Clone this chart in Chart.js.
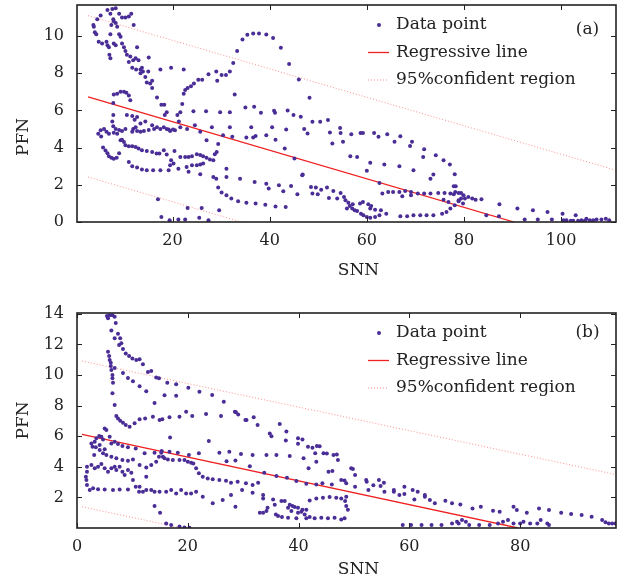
<!DOCTYPE html>
<html>
<head>
<meta charset="utf-8">
<script src="https://cdn.jsdelivr.net/npm/chart.js@4.4.1/dist/chart.umd.min.js"></script>
<style>
  html, body { margin: 0; padding: 0; background: #fff; }
  .box { position: absolute; left: 0; width: 626px; }
  #boxA { top: 0; height: 290px; }
  #boxB { top: 290px; height: 293px; }
</style>
</head>
<body>
<div class="box" id="boxA"><canvas id="chartA"></canvas></div>
<div class="box" id="boxB"><canvas id="chartB"></canvas></div>
<script>
// ---- panel (a): [SNN, PFN] ----
const pointsA = [
  [3.8,10.5],[3.7,10.6],[4.0,10.2],[4.3,10.1],[4.8,9.7],[5.2,11.1],[4.5,10.9],[5.5,9.6],[6.4,9.7],[6.6,9.5],
  [6.9,9.4],[7.0,9.0],[7.2,8.8],[7.2,11.2],[6.6,11.4],[7.6,11.45],[8.3,11.5],[7.8,10.9],[7.9,10.8],[8.3,10.7],
  [8.6,10.5],[7.4,10.6],[7.2,10.1],[7.9,9.6],[8.3,9.5],[9.0,11.2],[9.6,11.0],[10.3,11.0],[11.0,11.05],[11.5,11.2],
  [12.0,10.6],[9.0,10.1],[9.3,9.96],[9.6,9.6],[10.0,9.4],[10.3,9.2],[10.6,9.0],[11.0,8.6],[11.3,8.9],[11.9,8.7],
  [12.4,8.8],[12.7,9.4],[13.0,8.7],[11.7,8.3],[12.5,8.2],[13.4,8.2],[13.7,8.3],[13.9,8.1],[13.4,8.0],[14.4,7.8],
  [15.0,8.1],[15.1,8.85],[14.7,7.5],[15.4,7.45],[15.8,7.6],[15.8,7.2],[16.8,6.7],[17.5,8.2],[17.7,6.3],[18.3,6.3],
  [19.7,8.3],[22.3,8.2],
  [7.9,6.86],[8.6,6.9],[9.3,7.0],[10.0,7.0],[10.5,6.95],[11.0,6.8],[11.3,6.55],[7.8,6.4],
  [7.8,5.75],[7.6,5.4],[7.8,5.15],[8.3,5.0],[9.0,4.95],[9.6,4.9],[10.3,5.0],[10.6,5.75],[11.7,5.7],[12.2,5.5],
  [12.7,5.65],[13.4,5.3],[14.4,5.4],[11.9,5.0],[11.7,4.85],[12.4,5.1],[12.7,4.9],[13.4,4.85],[14.1,4.9],[15.1,4.95],
  [15.8,5.2],[16.2,5.0],[16.8,5.1],[17.5,5.0],[18.2,5.1],[18.8,5.0],[19.2,4.97],[19.5,4.9],[20.1,4.97],[20.5,4.94],
  [18.8,5.9],[18.4,5.75],[21.0,5.75],[21.6,5.9],[22.0,6.35],[21.3,5.4],[21.6,5.1],[23.0,5.0],[24.6,5.2],[24.3,5.96],
  [25.7,4.85],[27.0,4.4],[26.9,5.96],[28.1,5.1],[29.8,5.9],[31.8,5.9],[31.8,5.1],[29.4,4.2],[30.4,4.67],
  [4.7,4.75],[5.2,4.94],[5.9,5.0],[6.4,4.85],[6.9,4.75],[7.9,4.8],[8.6,4.75],[5.3,4.6],[5.7,4.0],[6.2,3.85],
  [6.6,3.7],[6.9,3.54],[7.4,3.46],[7.9,3.4],[8.5,3.46],[9.0,3.7],[9.3,4.4],[9.6,4.43],[10.0,4.3],[10.3,4.13],
  [11.0,4.07],[11.7,4.07],[12.4,4.04],[13.0,3.95],[13.7,3.86],[14.7,3.82],[15.8,3.77],[16.7,3.68],[17.3,3.68],[18.2,3.86],
  [18.8,3.63],[19.7,3.32],[20.4,3.82],[11.0,3.23],[11.7,3.0],[12.7,2.93],[13.7,2.82],[14.7,2.78],[16.0,2.78],[17.5,2.78],
  [19.2,2.78],[19.5,3.05],[20.2,3.14],[21.2,2.87],[21.6,3.5],[22.6,3.5],[23.3,3.5],[24.0,3.54],[25.0,3.64],[25.7,3.6],
  [26.3,3.54],[27.0,3.46],[27.7,3.36],[28.4,3.32],[28.7,3.64],[29.1,3.77],[24.0,3.05],[25.0,3.05],[25.7,3.09],[26.3,3.14],
  [22.9,2.96],[23.3,2.7],[25.7,2.57],[28.4,2.42],[29.0,2.33],[29.4,1.85],[30.1,1.58],[31.1,1.44],[32.1,1.26],[33.5,1.11],
  [35.2,1.04],[37.1,0.99],[39.1,0.93],[41.2,0.84],[43.3,0.81],[31.1,2.42],[31.1,2.87],[33.9,2.33],[36.9,2.15],[39.3,2.06],
  [39.8,1.8],[41.9,1.97],[42.8,1.65],[44.4,1.94],[45.7,1.49],[46.7,2.51],[48.5,1.88],[48.8,1.53],
  [17.0,1.22],[17.7,0.27],[19.4,0.09],[21.2,0.14],[22.6,0.14],[23.1,0.75],[25.5,0.23],[26.0,0.75],[27.4,0.09],[29.6,0.63],
  [22.3,6.9],[22.6,7.1],[23.1,7.2],[23.8,7.3],[24.4,7.45],[25.3,7.65],[26.1,7.65],[27.4,7.95],[29.0,8.1],[29.2,7.6],
  [30.1,7.9],[31.0,7.9],[31.8,8.1],[32.5,8.55],[33.3,9.2],[34.4,9.82],[35.4,10.07],[36.6,10.14],[37.8,10.14],[39.3,10.09],
  [40.7,9.9],[42.3,9.37],[44.0,8.5],[46.0,7.67],[48.2,6.68],[32.8,6.86],
  [35.0,6.16],[36.8,6.2],[38.2,5.87],[40.9,5.98],[41.1,5.87],[43.7,6.0],[44.9,5.75],[46.4,5.66],[48.8,5.39],[36.2,5.1],
  [40.5,5.1],[43.4,4.97],[47.1,5.0],[32.3,4.58],[35.2,4.54],[36.6,4.54],[37.1,4.63],[39.3,4.67],[41.2,4.43],[43.1,3.95],
  [45.1,3.41],[46.8,2.55],[47.8,4.76],
  [50.4,5.39],[52.0,5.48],[52.4,4.81],[52.9,4.22],[54.5,5.06],[54.6,4.79],[55.1,4.31],[56.8,4.72],[58.7,4.79],[59.2,4.79],
  [61.5,4.79],[62.4,4.58],[64.2,4.72],[65.7,4.31],[66.9,4.61],[68.9,4.09],[69.3,4.31],[71.8,3.91],[71.6,3.5],[74.2,3.59],
  [75.8,3.32],[77.1,3.09],[78.1,2.57],[73.1,2.33],[73.7,2.55],[56.6,3.54],[58.0,3.5],[60.0,2.75],[60.7,3.18],[63.6,3.09],
  [66.7,3.0],[69.6,2.78],[62.6,2.1],
  [49.5,1.85],[49.9,1.49],[50.6,1.74],[51.8,1.85],[52.2,1.29],[53.1,1.67],[53.9,1.26],[54.6,1.56],[55.3,1.35],[55.6,1.17],
  [56.2,1.04],[56.5,0.86],[57.0,0.72],[57.5,0.63],[58.0,0.59],[58.8,0.45],[59.3,0.36],[60.0,0.27],[60.7,0.23],[61.7,0.27],
  [62.6,0.36],[62.9,0.63],[61.7,0.66],[60.7,0.72],[58.6,0.99],[59.2,1.08],[60.3,0.95],[60.9,0.86],[57.1,0.95],[55.9,0.72],
  [64.0,0.45],
  [66.9,0.31],[68.3,0.31],[69.6,0.36],[71.0,0.36],[72.3,0.36],[73.7,0.36],[75.5,0.45],[76.4,0.54],[77.2,0.72],[78.1,0.9],
  [78.9,1.11],[79.4,1.26],[79.9,1.44],[79.4,1.56],
  [63.2,1.53],[64.4,1.62],[65.4,1.62],[66.7,1.62],[67.9,1.67],[69.1,1.62],[70.5,1.53],[71.8,1.53],[73.1,1.53],[74.7,1.56],
  [76.0,1.56],[77.2,1.53],[78.2,1.62],[78.9,1.56],[77.9,1.92],[78.3,1.92],[75.8,1.2],[76.8,1.08],[77.9,1.49],[78.9,1.17],
  [79.8,0.99],[67.3,1.38],[69.1,1.44],
  [80.2,1.26],[80.9,1.35],[81.7,1.26],[82.4,1.2],[83.6,1.22],[84.6,0.36],[87.3,0.95],[87.2,0.31],[91.0,0.72],[92.5,0.14],
  [94.2,0.63],[95.2,0.14],[97.2,0.54],[98.1,0.13],[100.3,0.45],[100.5,0.09],[103.0,0.36],[105.2,0.18],[106.6,0.09],[108.3,0.13],
  [109.2,0.18],[109.9,0.09],[101.1,0.09],[102.0,0.07],[102.5,0.07],[103.5,0.07],[104.2,0.09],[104.9,0.07],[105.9,0.09],[107.3,0.13]
];
const regSnnA = [2.6, 90.3];
const regPfnA = [6.73, 0];
const upSnnA = [2.6, 111.3];
const upPfnA = [11.1, 2.78];
const lowSnnA = [2.6, 34.2];
const lowPfnA = [2.42, 0];
const snnTicksA = [20, 40, 60, 80, 100];
const pfnTicksA = [0, 2, 4, 6, 8, 10];

// ---- panel (b) ----
const pointsB = [
  [5.4,13.85],[5.6,13.7],[5.9,13.9],[6.4,13.9],[6.8,13.8],[7.0,13.4],[6.2,12.9],[7.4,12.7],[7.8,12.4],[6.8,12.4],
  [7.6,11.96],[8.0,12.07],[8.3,11.7],[8.8,11.4],[9.4,11.24],[10.0,11.08],[10.7,10.98],[11.3,11.02],[11.9,10.7],[12.8,10.2],
  [13.4,10.26],[14.3,9.84],[14.8,9.78],[16.3,9.5],[17.9,9.4],[20.1,9.17],[22.1,8.9],[24.4,8.69],[26.5,8.25],[28.7,7.56],
  [30.6,7.05],[32.6,6.73],[34.8,6.18],[36.6,6.79],[37.8,6.3],[39.9,5.86],[40.7,5.79],
  [5.6,11.52],[5.8,11.24],[5.9,10.98],[6.1,10.8],[6.1,10.58],[6.2,10.32],[6.4,10.0],[6.4,9.78],[6.5,9.5],[6.4,8.8],
  [6.8,8.03],[7.1,7.32],[7.4,7.16],[7.8,7.01],[8.3,6.88],[8.8,6.73],[9.5,6.62],[10.4,6.84],[11.3,7.1],[12.3,7.16],
  [13.7,7.27],[14.9,7.05],[15.4,7.1],[16.7,7.23],[18.5,7.27],[19.7,7.6],[20.8,7.32],[23.3,7.45],[26.0,7.32],[28.5,7.6],
  [30.4,7.05],[31.9,7.23],[29.1,7.41],
  [6.8,10.46],[8.3,10.13],[9.2,9.8],[10.1,9.59],[11.3,9.26],[12.5,8.94],[14.0,8.17],[15.8,8.68],[17.9,8.65],
  [3.2,5.64],[2.6,5.53],[2.8,5.31],[3.5,5.86],[4.0,6.01],[4.4,5.97],[4.7,5.79],[5.0,6.51],[5.3,6.4],[3.4,5.27],
  [3.1,4.77],[4.1,5.42],[5.0,5.14],[6.2,5.53],[5.9,5.97],[6.8,5.64],[7.4,5.49],[8.2,5.36],[9.2,5.27],[10.6,5.2],
  [12.2,4.88],[14.0,4.92],[15.3,5.03],[16.7,4.98],[16.8,5.92],[18.2,4.92],[20.2,4.77],[22.0,4.88],[23.8,5.68],[25.7,4.92],
  [27.5,4.98],[29.6,4.83],[31.7,4.77],[34.2,4.77],[36.0,4.77],[38.4,4.7],[40.9,4.55],[43.2,4.33],
  [4.1,5.09],[4.7,4.88],[5.3,4.77],[6.2,4.66],[7.1,4.55],[8.2,4.44],[9.2,4.4],[10.1,4.48],[11.3,4.11],[12.5,3.96],
  [13.4,4.11],[14.3,4.33],[14.8,4.66],[15.2,4.92],[15.5,4.66],[15.8,4.55],[16.4,4.48],[17.3,4.44],[18.5,4.44],[19.4,4.44],
  [20.0,4.33],[20.6,4.27],[21.0,4.22],[21.5,3.9],[22.0,3.57],[22.7,3.35],[23.6,3.24],[24.5,3.18],[25.7,3.13],[26.9,3.09],
  [27.8,2.96],[29.0,3.02],[30.5,2.92],[31.7,2.81],[32.7,2.96],
  [1.8,4.0],[1.6,3.35],[1.8,2.81],[2.3,2.48],[1.8,3.68],[1.7,3.13],[2.6,4.11],[3.2,3.9],[3.8,4.0],[4.4,4.18],
  [5.0,3.9],[5.6,3.68],[6.2,3.9],[6.8,4.0],[7.1,3.79],[7.7,4.0],[8.2,3.68],[8.6,3.46],[9.2,3.79],[9.8,3.61],
  [10.1,3.13],[10.6,2.7],[11.2,2.37],[11.9,2.37],[12.5,2.48],[13.4,2.48],[14.0,2.37],[14.9,2.37],[16.1,2.37],[17.0,2.48],
  [17.9,2.26],[18.8,2.48],[19.7,2.26],[20.6,2.26],[21.5,2.37],[22.7,2.04],[24.5,1.61],[26.3,1.83],[27.8,2.15],[28.6,1.39],
  [29.8,2.48],[31.7,2.3],[33.6,1.93],[33.6,2.15],
  [2.9,2.59],[3.8,2.54],[5.0,2.52],[6.5,2.48],[7.7,2.52],[9.2,2.52],
  [11.3,2.7],[12.5,3.35],[14.0,1.43],[15.0,1.0],[16.1,0.3],[17.0,0.2],[18.5,0.09],[19.4,0.04],[20.3,0.02],
  [35.1,6.0],[37.7,5.71],[39.9,5.5],[42.5,5.24],[43.8,5.35],[45.1,4.87],[46.9,4.8],[46.1,3.72],[48.3,3.1],
  [27.0,4.37],[28.6,4.41],[31.2,4.04],[33.8,3.61],[36.0,3.39],[37.9,3.28],[39.6,3.07],[41.4,2.89],[43.2,2.84],
  [41.7,5.31],[41.8,3.9],[43.0,4.88],[43.3,5.36],[44.5,4.88],[45.4,3.68],[46.3,4.77],[47.1,4.44],[49.5,3.9],[49.8,3.85],
  [47.7,3.13],[48.6,2.92],[48.6,2.04],[50.2,2.7],[52.2,3.13],[52.6,2.48],[54.8,2.74],[55.5,2.37],[57.2,2.37],[58.2,2.15],
  [59.1,2.22],[60.9,1.87],[62.8,2.04],[63.7,1.83],[64.6,1.61],[66.5,1.78],[67.7,1.61],[69.2,1.54],[71.4,1.28],[72.9,1.39],
  [75.1,1.13],[76.3,1.06],[78.8,1.39],[79.4,1.17],[81.2,1.0],[83.4,1.28],[85.2,1.17],[87.4,1.0],[89.2,0.91],[91.1,0.85],
  [92.9,0.74],[94.8,0.52],[96.0,0.3],[96.6,0.3],[97.2,0.3],[95.4,0.37],
  [44.3,2.92],[46.0,2.85],[50.2,3.46],[52.3,3.02],[53.5,2.8],[54.5,3.13],[55.4,2.96],[57.2,2.48],[59.1,2.7],[60.6,2.48],
  [61.5,2.37],[62.8,2.15],
  [42.0,1.8],[43.2,1.93],[44.4,1.98],[45.6,2.02],[46.8,1.98],[47.7,1.93],[48.4,1.76],[48.6,1.43],[48.9,1.19],[48.3,0.63],
  [47.7,0.56],[46.5,0.67],[45.3,0.63],[44.1,0.67],[42.9,0.63],[42.0,0.72],[41.4,1.19],[40.7,1.19],[39.9,1.32],[39.3,1.37],
  [38.9,1.43],[38.4,1.52],[37.5,1.76],[36.9,1.76],[35.7,1.52],[35.4,1.87],[34.2,1.11],[33.6,1.0],[33.0,1.0],[34.4,1.32],
  [35.9,0.89],[36.3,0.78],[38.1,1.32],[38.7,1.11],[39.9,1.0],[40.5,1.06],[41.1,0.89],[37.0,0.72],[38.1,0.67],[39.6,0.63],
  [41.4,0.63],
  [58.8,0.19],[60.3,0.19],[62.2,0.19],[64.0,0.19],[65.8,0.19],[67.7,0.3],[68.6,0.41],[69.5,0.52],[70.2,0.41],[68.9,0.3],
  [70.8,0.19],[72.6,0.19],[74.5,0.19],[76.0,0.3],[76.9,0.41],[77.8,0.52],[78.8,0.3],[80.0,0.3],[80.6,0.41],[81.8,0.3],
  [83.1,0.3],[83.7,0.52],[84.9,0.3],[85.2,0.19]
];
const regSnnB = [0.9, 79.6];
const regPfnB = [6.12, 0];
const upSnnB = [0.9, 97.3];
const upPfnB = [10.91, 3.49];
const lowSnnB = [0.9, 18.9];
const lowPfnB = [1.39, 0];
const snnTicksB = [0, 20, 40, 60, 80];
const pfnTicksB = [2, 4, 6, 8, 10, 12, 14];

const FONT = 'DejaVu Serif';
const INK = '#222';
const DOT = '#4a2d96';
const RED = '#ee2020';
const PINK = '#ff8f8f';

function xy(xs, ys) { return xs.map((x, i) => ({ x: x, y: ys[i] })); }

// frame with inward ticks, legend box and axis titles drawn on top of the plot
function decor(o) {
  return {
    id: 'decor',
    afterDatasetsDraw(chart) {
      const { ctx, chartArea: a, scales: { x, y } } = chart;
      ctx.save();
      ctx.strokeStyle = INK;
      ctx.lineWidth = 1.6;
      ctx.strokeRect(a.left, a.top, a.right - a.left, a.bottom - a.top);
      ctx.lineWidth = 1;
      ctx.beginPath();
      x.ticks.forEach(t => {
        const px = Math.round(x.getPixelForValue(t.value)) + 0.5;
        ctx.moveTo(px, a.bottom); ctx.lineTo(px, a.bottom - 5);
        ctx.moveTo(px, a.top); ctx.lineTo(px, a.top + 5);
      });
      y.ticks.forEach(t => {
        const py = Math.round(y.getPixelForValue(t.value)) + 0.5;
        ctx.moveTo(a.left, py); ctx.lineTo(a.left + 5, py);
        ctx.moveTo(a.right, py); ctx.lineTo(a.right - 5, py);
      });
      ctx.stroke();

      // legend
      ctx.font = '17px "' + FONT + '"';
      ctx.textBaseline = 'middle';
      const ds = chart.data.datasets;
      [0, 1, 2].forEach((k, i) => {
        const d = ds[k];
        const ry = a.top + 20 + i * 27.5;
        if (k === 0) {
          ctx.fillStyle = DOT;
          ctx.beginPath();
          ctx.arc(a.right - 237, ry, 2, 0, Math.PI * 2);
          ctx.fill();
        } else {
          ctx.strokeStyle = d.borderColor;
          ctx.lineWidth = d.borderWidth;
          ctx.setLineDash(d.borderDash || []);
          ctx.beginPath();
          ctx.moveTo(a.right - 248, ry); ctx.lineTo(a.right - 227, ry);
          ctx.stroke();
          ctx.setLineDash([]);
        }
        ctx.fillStyle = INK;
        ctx.textAlign = 'left';
        ctx.fillText(d.label, a.right - 220, ry);
      });
      ctx.textAlign = 'center';
      ctx.fillText(o.tag, a.right - 28.5, a.top + o.tagDy);

      // axis titles
      ctx.fillText('SNN', (a.left + a.right) / 2 + 12, a.bottom + o.xTitleDy);
      ctx.translate(24, (a.top + a.bottom) / 2 + o.yTitleDy);
      ctx.rotate(-Math.PI / 2);
      ctx.fillText('PFN', 0, 0);
      ctx.restore();
    }
  };
}

function makeChart(id, o) {
  return new Chart(document.getElementById(id), {
    type: 'scatter',
    data: {
      datasets: [
        { label: 'Data point', data: o.points.map(p => ({ x: p[0], y: p[1] })),
          backgroundColor: DOT, pointRadius: 2, pointBorderWidth: 0 },
        { label: 'Regressive line', data: xy(o.reg[0], o.reg[1]), showLine: true,
          borderColor: RED, borderWidth: 1.3, pointRadius: 0 },
        { label: '95%confident region', data: xy(o.up[0], o.up[1]), showLine: true,
          borderColor: PINK, borderWidth: 1, borderDash: [1, 2], pointRadius: 0 },
        { label: '95%confident region', data: xy(o.low[0], o.low[1]), showLine: true,
          borderColor: PINK, borderWidth: 1, borderDash: [1, 2], pointRadius: 0 }
      ]
    },
    options: {
      responsive: true,
      maintainAspectRatio: false,
      animation: false,
      events: [],
      layout: { padding: { left: 0, right: 10, top: o.top, bottom: 0 } },
      plugins: { legend: { display: false }, tooltip: { enabled: false } },
      scales: {
        x: {
          type: 'linear', min: o.xMin, max: o.xMax,
          grid: { display: false, drawTicks: false },
          border: { display: false },
          afterFit: s => { s.height = o.xAxisH; s.paddingLeft = 0; s.paddingRight = 0; },
          afterBuildTicks: s => { s.ticks = o.xTicks.map(v => ({ value: v })); },
          ticks: { font: { family: FONT, size: 16 }, color: INK, padding: 9, maxRotation: 0, autoSkip: false }
        },
        y: {
          type: 'linear', min: o.yMin, max: o.yMax,
          grid: { display: false, drawTicks: false },
          border: { display: false },
          afterFit: s => { s.width = 77; s.paddingTop = 0; s.paddingBottom = 0; },
          afterBuildTicks: s => { s.ticks = o.yTicks.map(v => ({ value: v })); },
          ticks: { font: { family: FONT, size: 16 }, color: INK, padding: 13, autoSkip: false }
        }
      }
    },
    plugins: [decor(o)]
  });
}

makeChart('chartA', {
  points: pointsA, reg: [regSnnA, regPfnA], up: [upSnnA, upPfnA], low: [lowSnnA, lowPfnA],
  xMin: 0.33, xMax: 111.3, yMin: 0, yMax: 11.67, xTicks: snnTicksA, yTicks: pfnTicksA,
  top: 5, xAxisH: 68, tag: '(a)', tagDy: 25, xTitleDy: 48.5, yTitleDy: 23.5
});
makeChart('chartB', {
  points: pointsB, reg: [regSnnB, regPfnB], up: [upSnnB, upPfnB], low: [lowSnnB, lowPfnB],
  xMin: 0, xMax: 97.3, yMin: 0, yMax: 14.05, xTicks: snnTicksB, yTicks: pfnTicksB,
  top: 23, xAxisH: 55, tag: '(b)', tagDy: 20, xTitleDy: 42, yTitleDy: 0
});
</script>
</body>
</html>
